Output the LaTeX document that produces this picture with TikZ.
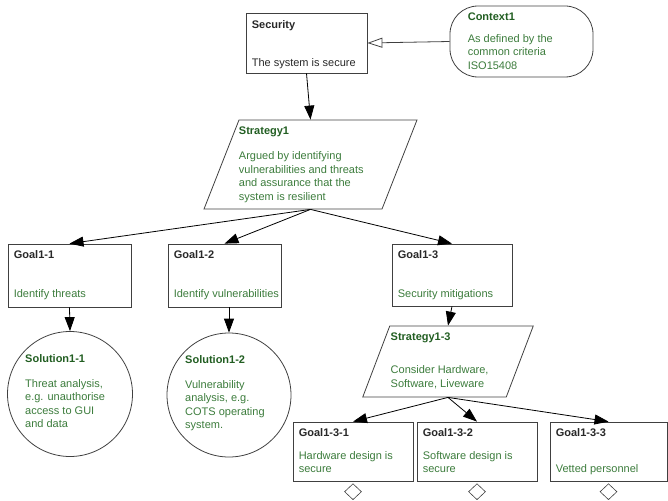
\documentclass[tikz,border=0pt]{standalone}
\usepackage{fontspec}
\setmainfont{Liberation Sans}
\usetikzlibrary{arrows.meta,calc,positioning,shapes.geometric}
\definecolor{GsnGreen}{RGB}{60,124,60}
\definecolor{GsnDarkGreen}{RGB}{34,94,34}
\definecolor{GsnLine}{RGB}{64,64,64}
\definecolor{GsnText}{RGB}{40,40,40}

\begin{document}
\begin{tikzpicture}[x=1pt,y=-1pt,font=\fontsize{11}{13.5}\selectfont,
    box/.style={draw=GsnLine,line width=0.8pt,inner sep=0pt},
    goal/.style={box,rectangle},
    strat/.style={box,rectangle,transform shape},
    soln/.style={box,circle},
    ctxbox/.style={box,rectangle,rounded corners=28pt},
    away/.style={diamond,draw=GsnLine,line width=0.6pt,minimum width=17pt,minimum height=16pt,inner sep=0pt},
    title/.style={anchor=base west,inner sep=0pt,font=\fontsize{11}{13.5}\selectfont\bfseries,text=GsnText},
    gtitle/.style={title,text=GsnDarkGreen},
    desc/.style={anchor=south west,inner sep=0pt,align=left,text=GsnGreen},
    link/.style={-{Triangle[length=14pt,width=10pt]},black,line width=0.8pt},
    ctxlink/.style={-{Triangle[open,length=15pt,width=10pt,fill=white]},GsnLine,line width=0.8pt}]
  \useasboundingbox (0,0) rectangle (668,500);
  \node[goal,minimum width=121,minimum height=60] (sec) at (306.5,43) {};
  \node[ctxbox,minimum width=143,minimum height=71] (ctx) at (521.5,41.5) {};
  \begin{scope}[shift={(310.5,164.5)}]
    \node[strat,xslant=0.393,minimum width=178,minimum height=89] (str1) at (0,0) {};
  \end{scope}
  \node[goal,minimum width=123,minimum height=63] (g11) at (69.5,275.5) {};
  \node[goal,minimum width=113,minimum height=63] (g12) at (224.5,275.5) {};
  \node[goal,minimum width=120,minimum height=62] (g13) at (452,275) {};
  \node[soln,minimum size=125] (s11) at (70,394) {};
  \node[soln,minimum size=124] (s12) at (229,395) {};
  \begin{scope}[shift={(448,361.5)}]
    \node[strat,xslant=0.38,minimum width=143.5,minimum height=71] (str13) at (0,0) {};
  \end{scope}
  \node[goal,minimum width=120,minimum height=59] (g131) at (353,451.5) {};
  \node[goal,minimum width=120,minimum height=59] (g132) at (477,451.5) {};
  \node[goal,minimum width=117,minimum height=59] (g133) at (608.5,451.5) {};
  \node[away,below=2pt of g131] (u131) {};
  \node[away,below=2pt of g132] (u132) {};
  \node[away,below=2pt of g133] (u133) {};

  \node[title] (sec-t) at ($(sec.north west)+(6,16)$) {Security};
  \node[desc,text=GsnText] (sec-d) at ($(sec.south west)+(6,-3)$) {The system is secure\strut};
  \node[gtitle] (ctx-t) at ($(ctx.north west)+(18,15)$) {Context1};
  \node[desc] (ctx-d) at ($(ctx.south west)+(18,-4)$) {As defined by the\\common criteria\\ISO15408\strut};
  \node[gtitle] (str1-t) at ($(str1.north west)+(0,15)$) {Strategy1};
  \node[desc] (str1-d) at ($(str1.north west |- str1.south)+(0,-5)$) {Argued by identifying\\vulnerabilities and threats\\and assurance that the\\system is resilient\strut};
  \node[title] (g11-t) at ($(g11.north west)+(6,15)$) {Goal1-1};
  \node[desc] (g11-d) at ($(g11.south west)+(6,-6)$) {Identify threats\strut};
  \node[title] (g12-t) at ($(g12.north west)+(6,15)$) {Goal1-2};
  \node[desc] (g12-d) at ($(g12.south west)+(6,-6)$) {Identify vulnerabilities\strut};
  \node[title] (g13-t) at ($(g13.north west)+(6,15)$) {Goal1-3};
  \node[desc] (g13-d) at ($(g13.south west)+(6,-5)$) {Security mitigations\strut};
  \node[gtitle] (s11-t) at ($(s11.center)+(-45,-32)$) {Solution1-1};
  \node[desc] (s11-d) at ($(s11.center)+(-45,38)$) {Threat analysis,\\e.g. unauthorise\\access to GUI\\and data\strut};
  \node[gtitle] (s12-t) at ($(s12.center)+(-44,-32)$) {Solution1-2};
  \node[desc] (s12-d) at ($(s12.center)+(-44,38)$) {Vulnerability\\analysis, e.g.\\COTS operating\\system.\strut};
  \node[gtitle] (str13-t) at ($(str13.north west)+(1,15)$) {Strategy1-3};
  \node[desc] (str13-d) at ($(str13.north west |- str13.south)+(1,-6)$) {Consider Hardware,\\Software, Liveware\strut};
  \node[title] (g131-t) at ($(g131.north west)+(6,15)$) {Goal1-3-1};
  \node[desc] (g131-d) at ($(g131.south west)+(6,-4.5)$) {Hardware design is\\secure\strut};
  \node[title] (g132-t) at ($(g132.north west)+(6,15)$) {Goal1-3-2};
  \node[desc] (g132-d) at ($(g132.south west)+(6,-4.5)$) {Software design is\\secure\strut};
  \node[title] (g133-t) at ($(g133.north west)+(6,15)$) {Goal1-3-3};
  \node[desc] (g133-d) at ($(g133.south west)+(6,-5)$) {Vetted personnel\strut};

  \draw[ctxlink] (ctx.west) -- (sec.east);
  \draw[link] (sec.south) -- (str1.center |- str1.north);
  \foreach \g in {g11,g12,g13}
    \draw[link] (str1.center |- str1.south) -- (\g.north);
  \draw[link] (g11.south) -- (s11.north);
  \draw[link] (g12.south -| s12.north) -- (s12.north);
  \draw[link] (g13.south) -- (str13.center |- str13.north);
  \foreach \g in {g131,g132,g133}
    \draw[link] (str13.center |- str13.south) -- (\g.north);
\end{tikzpicture}
\end{document}
